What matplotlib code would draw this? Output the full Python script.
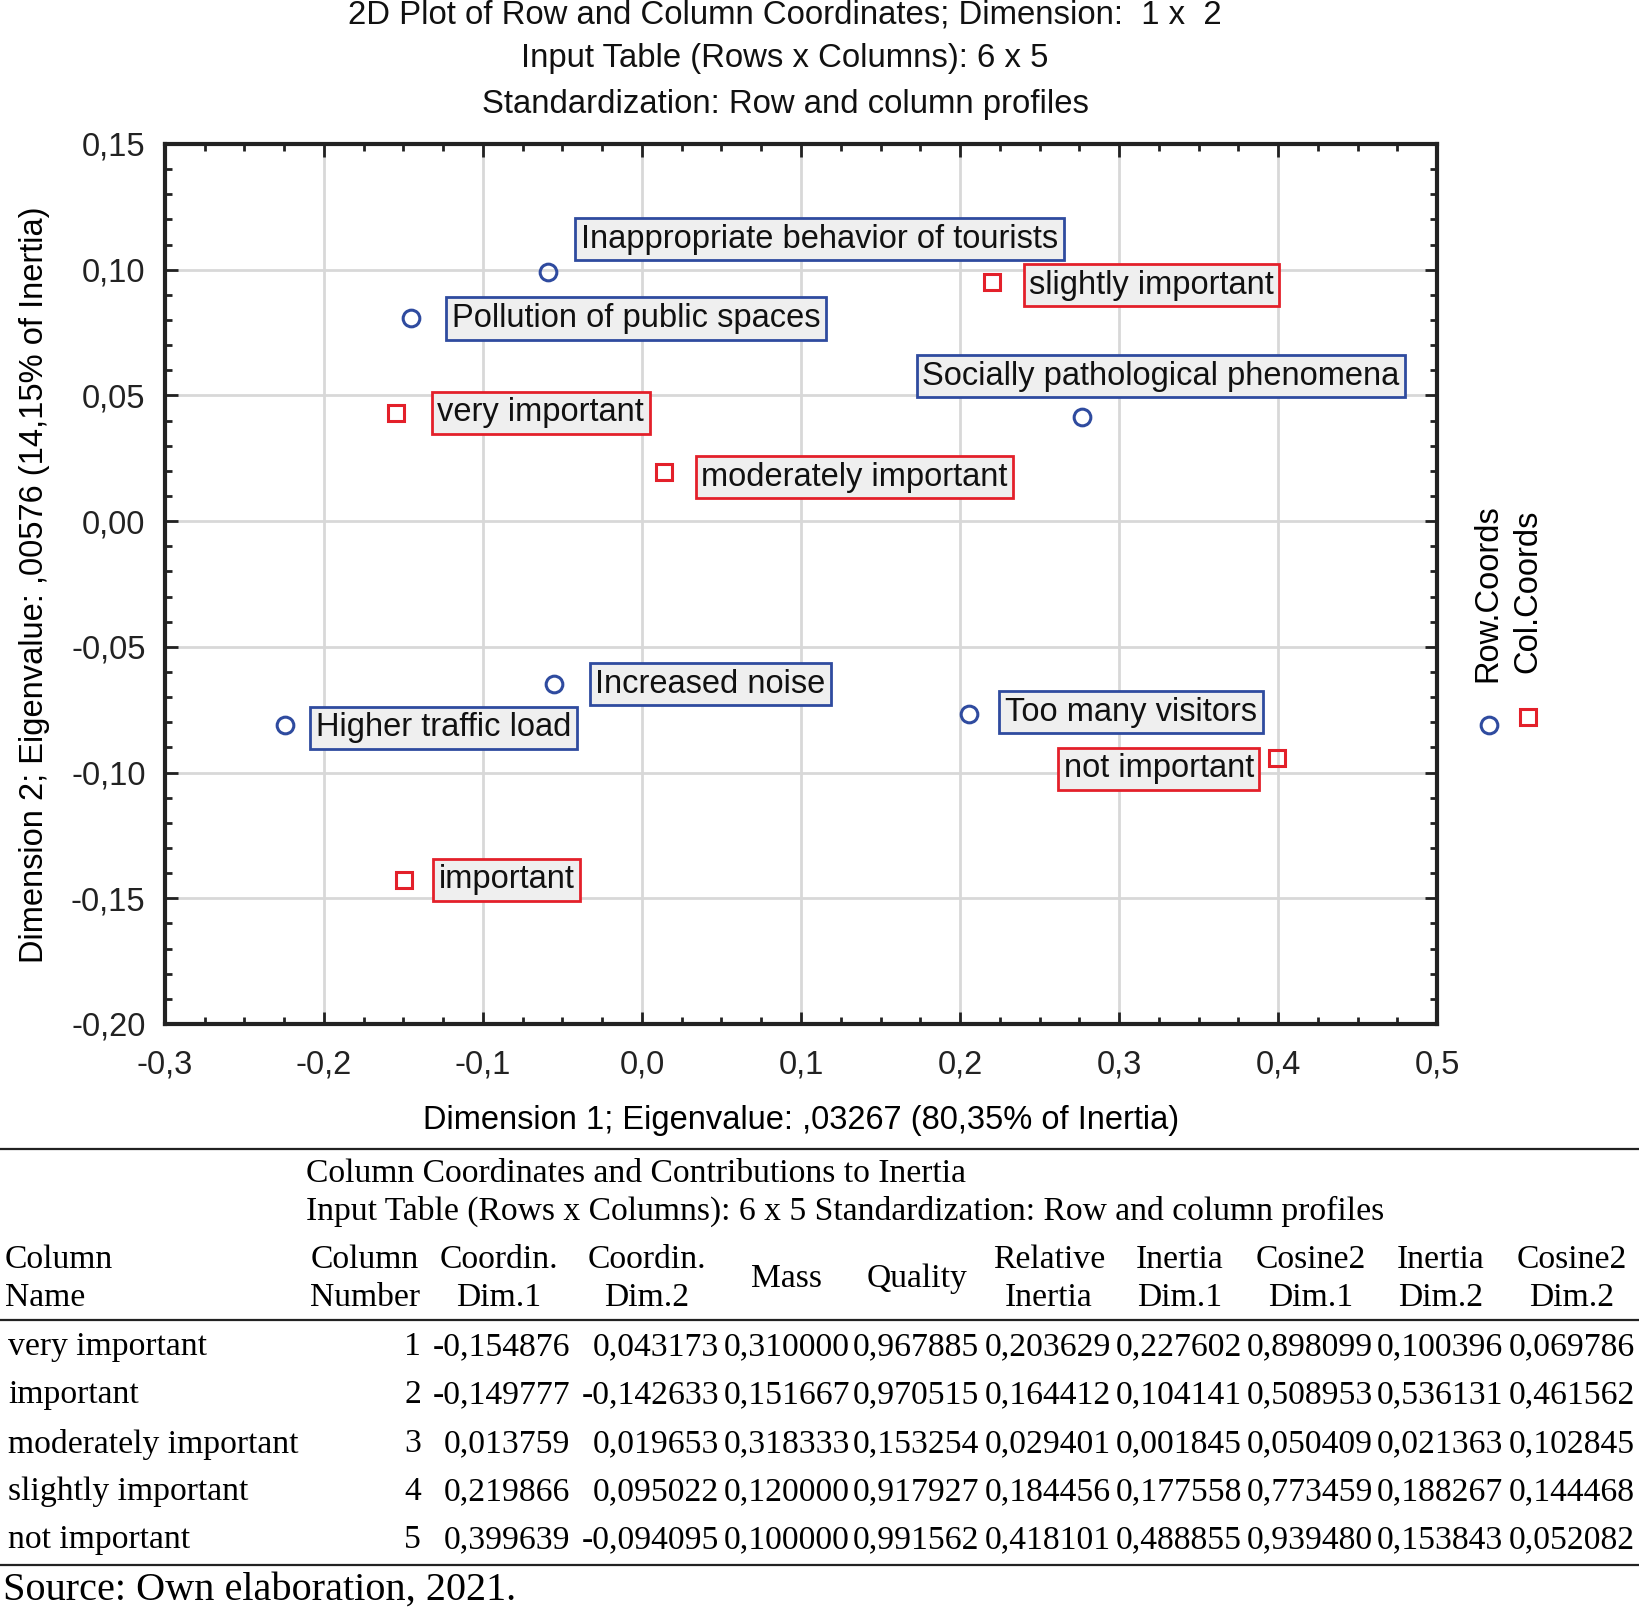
import matplotlib
matplotlib.use('Agg')
import matplotlib.pyplot as plt
from matplotlib.lines import Line2D
from matplotlib.ticker import MultipleLocator, FuncFormatter

# row coordinates
row_names = ['Inappropriate behavior of tourists', 'Pollution of public spaces',
             'Socially pathological phenomena', 'Increased noise',
             'Higher traffic load', 'Too many visitors']
row_dim1 = [-0.0594, -0.145, 0.2765, -0.0555, -0.2244, 0.2056]
row_dim2 = [0.0989, 0.0806, 0.0416, -0.0648, -0.0810, -0.0769]

# column coordinates and contributions (from the table)
col_names = ['very important', 'important', 'moderately important',
             'slightly important', 'not important']
col_number = [1, 2, 3, 4, 5]
col_dim1 = [-0.154876, -0.149777, 0.013759, 0.219866, 0.399639]
col_dim2 = [0.043173, -0.142633, 0.019653, 0.095022, -0.094095]
mass = [0.310000, 0.151667, 0.318333, 0.120000, 0.100000]
quality = [0.967885, 0.970515, 0.153254, 0.917927, 0.991562]
rel_inertia = [0.203629, 0.164412, 0.029401, 0.184456, 0.418101]
inertia_dim1 = [0.227602, 0.104141, 0.001845, 0.177558, 0.488855]
cos2_dim1 = [0.898099, 0.508953, 0.050409, 0.773459, 0.939480]
inertia_dim2 = [0.100396, 0.536131, 0.021363, 0.188267, 0.153843]
cos2_dim2 = [0.069786, 0.461562, 0.102845, 0.144468, 0.052082]

# label offsets in points (dx, dy, ha)
row_offsets = [(24, 24, 'left'), (29, 0, 'left'), (57, 29, 'center'),
               (30, 0, 'left'), (22, -2, 'left'), (26, 1.5, 'left')]
col_offsets = [(30, 0, 'left'), (25, 0, 'left'), (27, -4, 'left'),
               (27, -2, 'left'), (-17, -8, 'right')]

W, H = 1639, 1609
blue = '#2f4b9f'
red = '#e3202a'
sans = 'Liberation Sans'
serif = 'Liberation Serif'

fig = plt.figure(figsize=(W / 100, H / 100), dpi=100)


def fx(px):
    return px / W


def fy(py):
    return 1 - py / H


ax = fig.add_axes([fx(165), fy(1024), fx(1437 - 165), (1024 - 144) / H])
ax.set_xlim(-0.3, 0.5)
ax.set_ylim(-0.2, 0.15)
ax.xaxis.set_major_locator(MultipleLocator(0.1))
ax.xaxis.set_minor_locator(MultipleLocator(0.025))
ax.yaxis.set_major_locator(MultipleLocator(0.05))
ax.yaxis.set_minor_locator(MultipleLocator(0.01))
ax.xaxis.set_major_formatter(FuncFormatter(lambda v, p: f'{v:.1f}'.replace('.', ',').replace('-0,0', '0,0')))
ax.yaxis.set_major_formatter(FuncFormatter(lambda v, p: f'{v:.2f}'.replace('.', ',').replace('-0,00', '0,00')))
ax.tick_params(which='both', direction='in', top=True, right=True, width=2, colors='#222222')
ax.tick_params(which='major', length=9, labelsize=23.5, pad=14)
ax.tick_params(axis='x', which='major', pad=18)
ax.tick_params(which='minor', length=5)
for lab in ax.get_xticklabels() + ax.get_yticklabels():
    lab.set_fontfamily(sans)
for s in ax.spines.values():
    s.set_linewidth(3)
    s.set_color('#222222')
ax.grid(True, which='major', color='#d8d8d8', lw=2)
ax.set_axisbelow(True)

ax.plot(row_dim1, row_dim2, 'o', ms=12, mfc='none', mec=blue, mew=2.2, zorder=3)
ax.plot(col_dim1, col_dim2, 's', ms=11.5, mfc='none', mec=red, mew=2.2, zorder=3)

for name, x, y, (dx, dy, ha) in zip(row_names, row_dim1, row_dim2, row_offsets):
    ax.annotate(name, (x, y), xytext=(dx, dy), textcoords='offset points',
                ha=ha, va='center', fontsize=23.5, family=sans, color='#111111',
                bbox=dict(boxstyle='square,pad=0.17', fc='#efefef', ec=blue, lw=2))
for name, x, y, (dx, dy, ha) in zip(col_names, col_dim1, col_dim2, col_offsets):
    ax.annotate(name, (x, y), xytext=(dx, dy), textcoords='offset points',
                ha=ha, va='center', fontsize=23.5, family=sans, color='#111111',
                bbox=dict(boxstyle='square,pad=0.17', fc='#efefef', ec=red, lw=2))

ax.set_xlabel('Dimension 1; Eigenvalue: ,03267 (80,35% of Inertia)', fontsize=23.5, family=sans)
ax.xaxis.set_label_coords(fx(801 - 165) / fx(1437 - 165), (1024 - 1121) / (1024 - 144))
ax.xaxis.label.set_va('center')
ax.set_ylabel('Dimension 2; Eigenvalue: ,00576 (14,15% of Inertia)', fontsize=23.5, family=sans)
ax.yaxis.set_label_coords((35 - 165) / (1437 - 165), (1024 - 585) / (1024 - 144))
ax.yaxis.label.set_va('center')

# title
titles = ['2D Plot of Row and Column Coordinates; Dimension:  1 x  2',
          'Input Table (Rows x Columns): 6 x 5',
          'Standardization: Row and column profiles']
for t, y in zip(titles, [15, 59, 104]):
    fig.text(fx(785), fy(y), t, ha='center', va='center', fontsize=23.7, family=sans, color='#111111')

# legend
fig.text(fx(1488), fy(682), 'Row.Coords', rotation=90, ha='center', va='bottom', fontsize=23.5, family=sans)
fig.text(fx(1528), fy(673), 'Col.Coords', rotation=90, ha='center', va='bottom', fontsize=23.5, family=sans)
fig.add_artist(Line2D([fx(1489)], [fy(725)], marker='o', ms=12, mfc='none', mec=blue, mew=2.2))
fig.add_artist(Line2D([fx(1528)], [fy(717)], marker='s', ms=11.5, mfc='none', mec=red, mew=2.2))

# table
for y in [1149, 1320, 1565]:
    fig.add_artist(Line2D([0, 1], [fy(y), fy(y)], color='#222222', lw=1.6))

ts = 24.2
fig.text(fx(306), fy(1174), 'Column Coordinates and Contributions to Inertia', fontsize=ts, family=serif, va='center')
fig.text(fx(306), fy(1211), 'Input Table (Rows x Columns): 6 x 5 Standardization: Row and column profiles',
         fontsize=ts, family=serif, va='center')
fig.text(fx(5), fy(1279), 'Column\nName', fontsize=ts, family=serif, va='center', linespacing=1.32)

headers = ['Column\nNumber', 'Coordin.\nDim.1', 'Coordin.\nDim.2', 'Mass', 'Quality', 'Relative\nInertia',
           'Inertia\nDim.1', 'Cosine2\nDim.1', 'Inertia\nDim.2', 'Cosine2\nDim.2']
head_x = [365, 499, 647, 787, 917, 1049, 1180, 1311, 1441, 1572]
for h, x in zip(headers, head_x):
    fig.text(fx(x), fy(1279), h, fontsize=ts, family=serif, ha='center', va='center', linespacing=1.32)

value_right = [421, 570, 719, 850, 979, 1111, 1242, 1373, 1503, 1635]
row_y = [1347, 1395, 1444, 1492, 1540]


def fmt(v):
    return f'{v:.6f}'.replace('.', ',')


for i, name in enumerate(col_names):
    y = fy(row_y[i])
    fig.text(fx(8), y, name, fontsize=ts, family=serif, va='center')
    vals = [str(col_number[i])] + [fmt(a[i]) for a in
            (col_dim1, col_dim2, mass, quality, rel_inertia, inertia_dim1, cos2_dim1, inertia_dim2, cos2_dim2)]
    for v, x in zip(vals, value_right):
        fig.text(fx(x), y, v, fontsize=ts, family=serif, ha='right', va='center')

fig.text(fx(3), fy(1590), 'Source: Own elaboration, 2021.', fontsize=29, family=serif, va='center')

fig.savefig('out.png', dpi=100)
